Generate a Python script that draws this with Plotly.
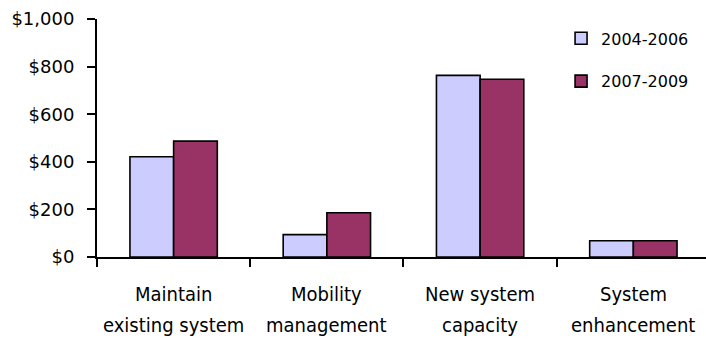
import plotly.graph_objects as go

categories = ["Maintain existing system", "Mobility management",
              "New system capacity", "System enhancement"]
label_line1 = ["Maintain", "Mobility", "New system", "System"]
label_line2 = ["existing system", "management", "capacity", "enhancement"]
series_names = ["2004-2006", "2007-2009"]
values_2004_2006 = [421, 94, 763, 68]
values_2007_2009 = [487, 186, 747, 68]
y_tick_values = [0, 200, 400, 600, 800, 1000]
y_tick_labels = ["$0", "$200", "$400", "$600", "$800", "$1,000"]
series_colors = ["#CCCCFF", "#993366"]

fig = go.Figure()
for name, vals, col in zip(series_names, [values_2004_2006, values_2007_2009], series_colors):
    fig.add_trace(go.Bar(
        x=categories, y=vals, name=name, legendgroup=name,
        marker=dict(color=col, line=dict(color="black", width=1.6)),
    ))

annotations = []
for cat, l1, l2 in zip(categories, label_line1, label_line2):
    annotations.append(dict(x=cat, xref="x", y=-0.155, yref="paper", text=l1,
                            showarrow=False, yanchor="middle", xanchor="center",
                            font=dict(family="DejaVu Sans Condensed", size=20, color="black")))
    annotations.append(dict(x=cat, xref="x", y=-0.287, yref="paper", text=l2,
                            showarrow=False, yanchor="middle", xanchor="center",
                            font=dict(family="DejaVu Sans Condensed", size=20, color="black")))

fig.update_layout(
    width=706, height=341,
    margin=dict(l=97, r=0, t=19, b=84, pad=0, autoexpand=False),
    paper_bgcolor="white", plot_bgcolor="white",
    barmode="group", bargap=0.43, bargroupgap=0,
    font=dict(family="DejaVu Sans", color="black"),
    showlegend=True,
    legend=dict(x=0.762, y=0.99, xanchor="left", yanchor="top",
                font=dict(family="DejaVu Sans", size=16, color="black"),
                traceorder="grouped", tracegroupgap=19,
                bgcolor="rgba(0,0,0,0)"),
    annotations=annotations,
    xaxis=dict(type="category", range=[-0.5, 3.474], showticklabels=False,
               ticks="outside", tickson="boundaries", ticklen=8, tickwidth=2,
               tickcolor="black", showline=True, linecolor="black", linewidth=2,
               showgrid=False, zeroline=False),
    yaxis=dict(range=[0, 1000], tickmode="array", tickvals=y_tick_values,
               ticktext=[t.replace("$", "&#36;") for t in y_tick_labels],
               ticks="outside", ticklen=8, tickwidth=2, tickcolor="black",
               ticklabelstandoff=9,
               showline=True, linecolor="black", linewidth=2, showgrid=False,
               zeroline=False, tickfont=dict(family="DejaVu Sans", size=18, color="black")),
)

fig.write_html("out.html")
